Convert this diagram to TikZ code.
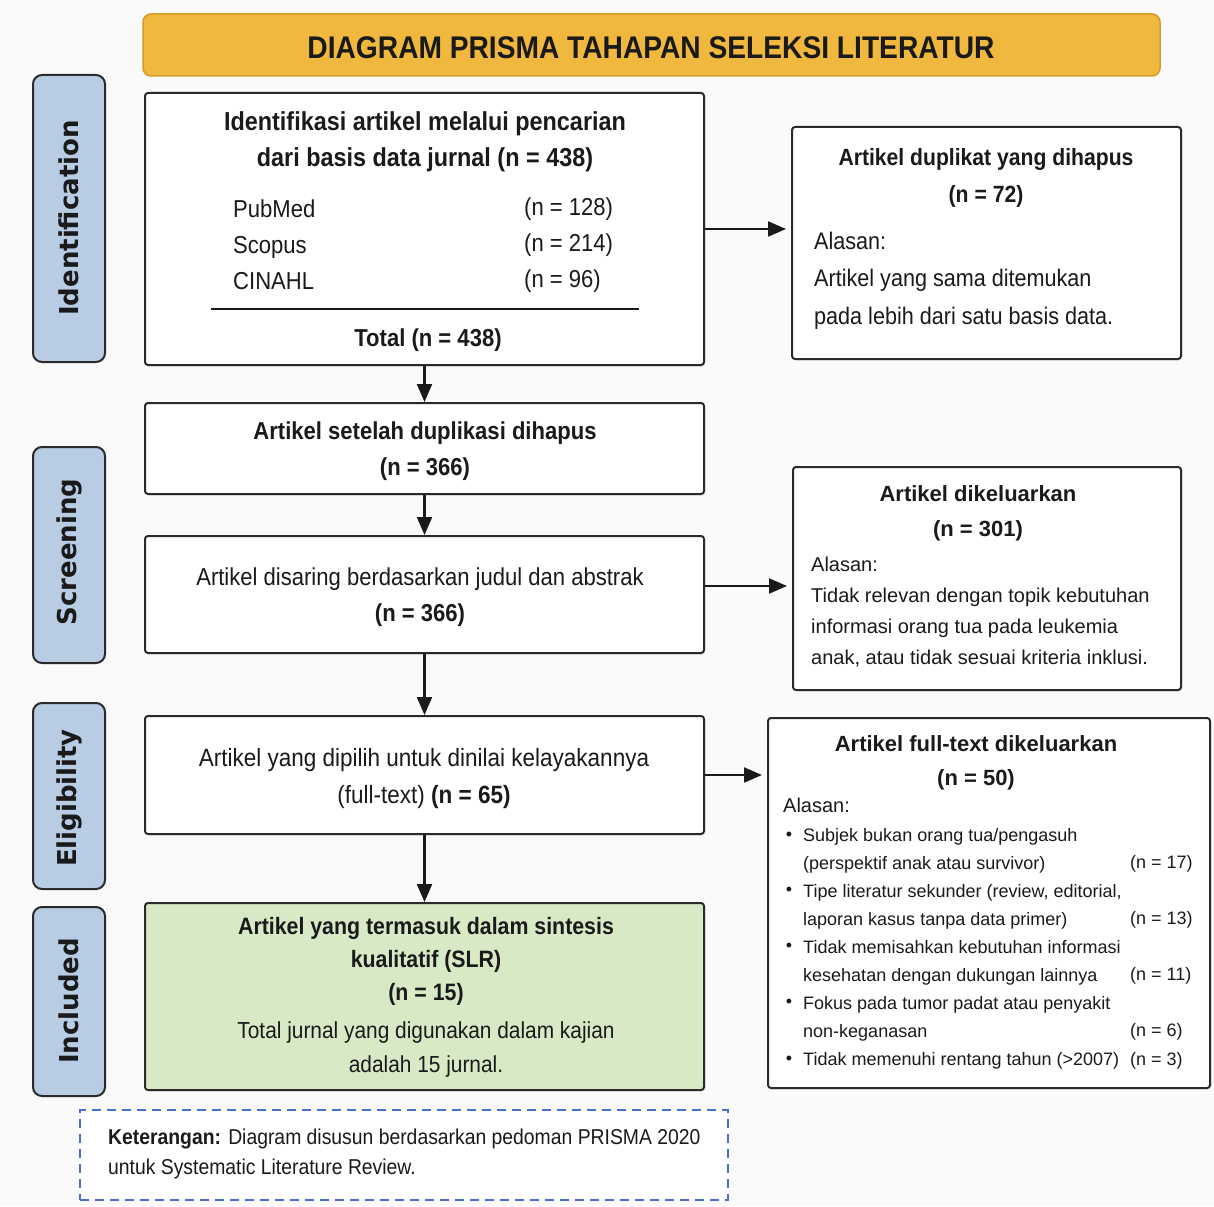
\documentclass[tikz,border=0pt]{standalone}
\usepackage{fontspec}
\setmainfont{Liberation Sans}
\newfontfamily\cond[FakeStretch=0.9]{Liberation Sans}
\newfontfamily\lblfont{DejaVu Sans}
\usetikzlibrary{arrows.meta,shadows}
\definecolor{bgc}{HTML}{FAFAFA}
\definecolor{titlec}{HTML}{F0B83E}
\definecolor{titleb}{HTML}{D49A2A}
\definecolor{sidec}{HTML}{B8CCE4}
\definecolor{greenc}{HTML}{D8E9C6}
\definecolor{dashc}{HTML}{4A6FD0}
\definecolor{ink}{HTML}{1A1A1A}
\definecolor{edge}{HTML}{2A2A2A}
\begin{document}
\begin{tikzpicture}[x=1pt,y=-1pt,
  box/.style={draw=edge, line width=2pt, fill=white, rounded corners=3pt, inner sep=0pt,
    drop shadow={opacity=0.15, shadow xshift=1.5pt, shadow yshift=-1.5pt}},
  side/.style={draw=edge, line width=2pt, fill=sidec, rounded corners=9pt, inner sep=0pt, minimum width=72pt},
  sidetxt/.style={rotate=90, font=\lblfont\bfseries\fontsize{26}{26}\selectfont, text=ink, inner sep=0pt},
  flow/.style={line width=2.2pt, draw=ink, -{Triangle[length=18pt,width=15pt]}},
  ctxt/.style={font=\cond\fontsize{24.5}{36}\selectfont, text=ink, align=center, inner sep=0pt},
  cbold/.style={font=\cond\bfseries\fontsize{24.5}{36}\selectfont, text=ink, align=center, inner sep=0pt},
  rtxt/.style={text=ink, inner sep=0pt},
]
\useasboundingbox (0,0) rectangle (1214,1206);
\fill[bgc] (0,0) rectangle (1214,1206);

% title
\node[draw=titleb, line width=1.5pt, fill=titlec, rounded corners=8pt, minimum width=1017pt, minimum height=62pt,
  inner sep=0pt] (title) at (651.5,45) {};
\node[font=\cond\bfseries\fontsize{31.3}{31.3}\selectfont, text=ink, inner sep=0pt] (titletxt) at (651,48)
  {DIAGRAM PRISMA TAHAPAN SELEKSI LITERATUR};

% side labels
\node[side, minimum height=287pt] (sid) at (69,218.5) {};
\node[sidetxt] (sidt) at (69,218) {Identification};
\node[side, minimum height=216pt] (sscr) at (69,555) {};
\node[sidetxt] (sscrt) at (69,552) {Screening};
\node[side, minimum height=186pt] (selg) at (69,796) {};
\node[sidetxt] (selgt) at (69,798) {Eligibility};
\node[side, minimum height=189pt] (sinc) at (69,1001.5) {};
\node[sidetxt] (sinct) at (69,1001) {Included};

% main column boxes
\node[box, minimum width=559pt, minimum height=272pt] (b1) at (424.5,229) {};
\node[box, minimum width=559pt, minimum height=91pt] (b2) at (424.5,448.5) {};
\node[box, minimum width=559pt, minimum height=117pt] (b3) at (424.5,594.5) {};
\node[box, minimum width=559pt, minimum height=118pt] (b4) at (424.5,775) {};
\node[box, fill=greenc, minimum width=559pt, minimum height=187pt] (b5) at (424.5,996.5) {};

% side boxes
\node[box, minimum width=389pt, minimum height=232pt] (dup) at (986.5,243) {};
\node[box, minimum width=388pt, minimum height=223pt] (exc) at (987,578.5) {};
\node[box, minimum width=442pt, minimum height=370pt] (ftx) at (989,903) {};

% keterangan
\node[draw=dashc, line width=1.6pt, dash pattern=on 9pt off 6pt, fill=white, minimum width=648pt,
  minimum height=90pt, inner sep=0pt] (ket) at (404,1155) {};

% ---- text box 1
\node[cbold, font=\cond\bfseries\fontsize{26}{36}\selectfont] (b1t) at (425,141.5)
  {Identifikasi artikel melalui pencarian\\dari basis data jurnal (n = 438)};
\node[ctxt, anchor=west, align=left] (b1src) at (233,244.5) {PubMed\\Scopus\\CINAHL};
\node[ctxt, anchor=west, align=left] (b1n) at (524,245.5) {(n = 128)\\(n = 214)\\(n = 96)};
\coordinate (rl) at (211,309);
\coordinate (rr) at (639,309);
\draw[line width=1.6pt, draw=ink] (rl) -- (rr);
\node[cbold] (b1tot) at (428,340) {Total (n = 438)};

% ---- dup box
\node[cbold, font=\cond\bfseries\fontsize{23.5}{37}\selectfont] (dupt) at (986,177.5)
  {Artikel duplikat yang dihapus\\(n = 72)};
\node[ctxt, font=\cond\fontsize{24}{37.5}\selectfont, anchor=west, align=left] (dupr) at (814,280.5)
  {Alasan:\\Artikel yang sama ditemukan\\pada lebih dari satu basis data.};

% ---- box 2, 3, 4
\node[cbold] (b2t) at (425,451) {Artikel setelah duplikasi dihapus\\(n = 366)};
\node[ctxt] (b3t) at (420,597) {Artikel disaring berdasarkan judul dan abstrak\\\textbf{(n = 366)}};
\node[ctxt, font=\cond\fontsize{25}{37}\selectfont] (b4t) at (424,779)
  {Artikel yang dipilih untuk dinilai kelayakannya\\(full-text) \textbf{(n = 65)}};

% ---- box 5
\node[cbold, font=\cond\bfseries\fontsize{23.7}{33}\selectfont] (b5t) at (426,961)
  {Artikel yang termasuk dalam sintesis\\kualitatif (SLR)\\(n = 15)};
\node[ctxt, font=\cond\fontsize{23.2}{34}\selectfont] (b5r) at (426,1049.5)
  {Total jurnal yang digunakan dalam kajian\\adalah 15 jurnal.};

% ---- excluded box
\node[rtxt, font=\bfseries\fontsize{22}{35}\selectfont, align=center] (exct) at (978,513.5)
  {Artikel dikeluarkan\\(n = 301)};
\node[rtxt, font=\fontsize{20}{31.3}\selectfont, anchor=west, align=left] (excr) at (811,612)
  {Alasan:\\Tidak relevan dengan topik kebutuhan\\informasi orang tua pada leukemia\\anak, atau tidak sesuai kriteria inklusi.};

% ---- full-text excluded box
\node[rtxt, font=\bfseries\fontsize{22}{34}\selectfont, align=center] (ftt) at (976,763)
  {Artikel full-text dikeluarkan\\(n = 50)};
\node[rtxt, font=\fontsize{20}{20}\selectfont, anchor=west] (fta) at (783,805) {Alasan:};
\node[rtxt, font=\fontsize{18}{28}\selectfont, anchor=west, align=left] (ftl) at (803,949)
  {Subjek bukan orang tua/pengasuh\\(perspektif anak atau survivor)\\Tipe literatur sekunder (review, editorial,\\laporan kasus tanpa data primer)\\Tidak memisahkan kebutuhan informasi\\kesehatan dengan dukungan lainnya\\Fokus pada tumor padat atau penyakit\\non-keganasan\\Tidak memenuhi rentang tahun (>2007)};
\foreach \yy/\nm in {836/u1,891/u2,947/u3,1003/u4,1060/u5}
  \node[rtxt, font=\fontsize{18}{18}\selectfont] (\nm) at (789,\yy) {•};
\foreach \yy/\nn/\nm in {864/17/n1,920/13/n2,976/11/n3,1032/6/n4,1061/3/n5}
  \node[rtxt, font=\fontsize{18}{18}\selectfont, anchor=west] (\nm) at (1130,\yy) {(n = \nn)};

% ---- keterangan text
\node[rtxt, font=\cond\fontsize{21.5}{30}\selectfont, anchor=west, align=left] (kett) at (108,1154)
  {\textbf{Keterangan:} Diagram disusun berdasarkan pedoman PRISMA 2020\\untuk Systematic Literature Review.};

% ---- connectors
\draw[flow] (b1.south) -- (b2.north);
\draw[flow] (b2.south) -- (b3.north);
\draw[flow] (b3.south) -- (b4.north);
\draw[flow] (b4.south) -- (b5.north);
\draw[flow, shorten >=5pt] (b1.east) -- (b1.east -| dup.west);
\draw[flow, shorten >=5pt] ([yshift=8.5pt]b3.east) -- ([yshift=8.5pt]b3.east -| exc.west);
\draw[flow, shorten >=5pt] (b4.east) -- (b4.east -| ftx.west);
\end{tikzpicture}
\end{document}
